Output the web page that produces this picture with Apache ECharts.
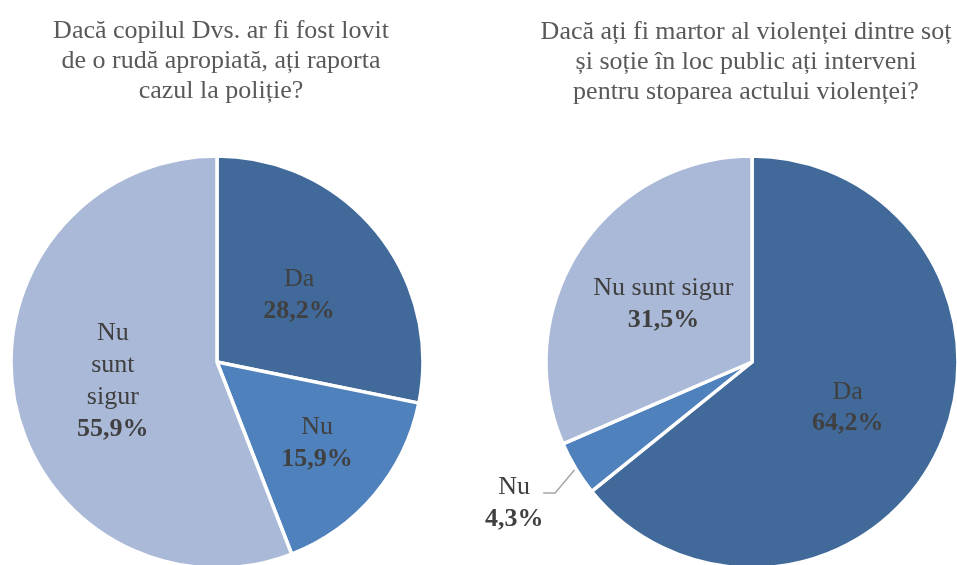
<!DOCTYPE html>
<html>
<head>
<meta charset="utf-8">
<script src="https://cdn.jsdelivr.net/npm/echarts@6/dist/echarts.min.js"></script>
<style>
  html, body { margin: 0; padding: 0; background: #fff; }
  #chart { width: 957px; height: 565px; }
</style>
</head>
<body>
<div id="chart"></div>
<script>
// categories and values (percent)
const categories = ['Da', 'Nu', 'Nu sunt sigur']
const valuesRuda = [28.2, 15.9, 55.9]
const valuesViolenta = [64.2, 4.3, 31.5]
const titleRuda = 'Dacă copilul Dvs. ar fi fost lovit\nde o rudă apropiată, ați raporta\ncazul la poliție?'
const titleViolenta = 'Dacă ați fi martor al violenței dintre soț\nși soție în loc public ați interveni\npentru stoparea actului violenței?'

const colors = ['#416A9B', '#4F81BD', '#AAB9D7']
const serif = "'Liberation Serif', 'Times New Roman', serif"

function pct(v) {
  return v.toFixed(1).replace('.', ',') + '%'
}

const richStyle = {
  n: { fontFamily: serif, fontSize: 26, color: '#404040', lineHeight: 32 },
  v: { fontFamily: serif, fontSize: 26, fontWeight: 'bold', color: '#404040', lineHeight: 32 }
}

function makeData(values, wrapNames) {
  return categories.map(function (c, i) {
    return {
      name: c,
      value: values[i],
      itemStyle: { color: colors[i] },
      label: { formatter: (wrapNames ? c.replace(/ /g, '\n') : c).split('\n').map(function (s) { return '{n|' + s + '}' }).join('\n') + '\n{v|' + pct(values[i]) + '}' }
    }
  })
}

const dataRuda = makeData(valuesRuda, true)
// Excel-style placement of the small "Nu" label on the left pie
dataRuda[1].label.padding = [26, 0, 0, 38]

const dataViolenta = makeData(valuesViolenta, false)
dataViolenta[1].label.position = 'outside'
dataViolenta[1].labelLine = { show: true, length: 24, length2: 12, lineStyle: { color: '#A6A6A6', width: 1.5 } }

// push the small outside label down, as Excel does, and bend the leader line with it
function shiftOutsideLabel(params) {
  if (params.dataIndex !== 1 || !params.labelLinePoints) return
  const dy = 12
  const pts = params.labelLinePoints.map(function (p, i) {
    return i === 0 ? [p[0], p[1]] : [p[0], p[1] + dy]
  })
  return { dy: 22, dx: -24, align: 'center', labelLinePoints: pts }
}

let myChart = echarts.init(document.getElementById('chart'))
let option = {
  backgroundColor: '#fff',
  animation: false,
  title: [
    {
      text: titleRuda,
      left: 216,
      top: 11,
      textAlign: 'center',
      textStyle: { fontFamily: serif, fontSize: 26, fontWeight: 'normal', color: '#595959', lineHeight: 30 }
    },
    {
      text: titleViolenta,
      left: 741,
      top: 12,
      textAlign: 'center',
      textStyle: { fontFamily: serif, fontSize: 26, fontWeight: 'normal', color: '#595959', lineHeight: 30 }
    }
  ],
  series: [
    {
      type: 'pie',
      center: [217, 362],
      radius: 206,
      startAngle: 90,
      clockwise: true,
      avoidLabelOverlap: false,
      itemStyle: { borderColor: '#fff', borderWidth: 3.5 },
      label: { show: true, position: 'inside', rich: richStyle },
      labelLine: { show: false },
      emphasis: { disabled: true },
      data: dataRuda
    },
    {
      type: 'pie',
      center: [752, 362],
      radius: 206,
      startAngle: 90,
      clockwise: true,
      avoidLabelOverlap: false,
      itemStyle: { borderColor: '#fff', borderWidth: 3.5 },
      label: { show: true, position: 'inside', rich: richStyle },
      labelLine: { show: false },
      labelLayout: shiftOutsideLabel,
      emphasis: { disabled: true },
      data: dataViolenta
    }
  ]
}
myChart.setOption(option)
window.addEventListener('resize', function () {
  myChart.resize()
})
</script>
</body>
</html>
